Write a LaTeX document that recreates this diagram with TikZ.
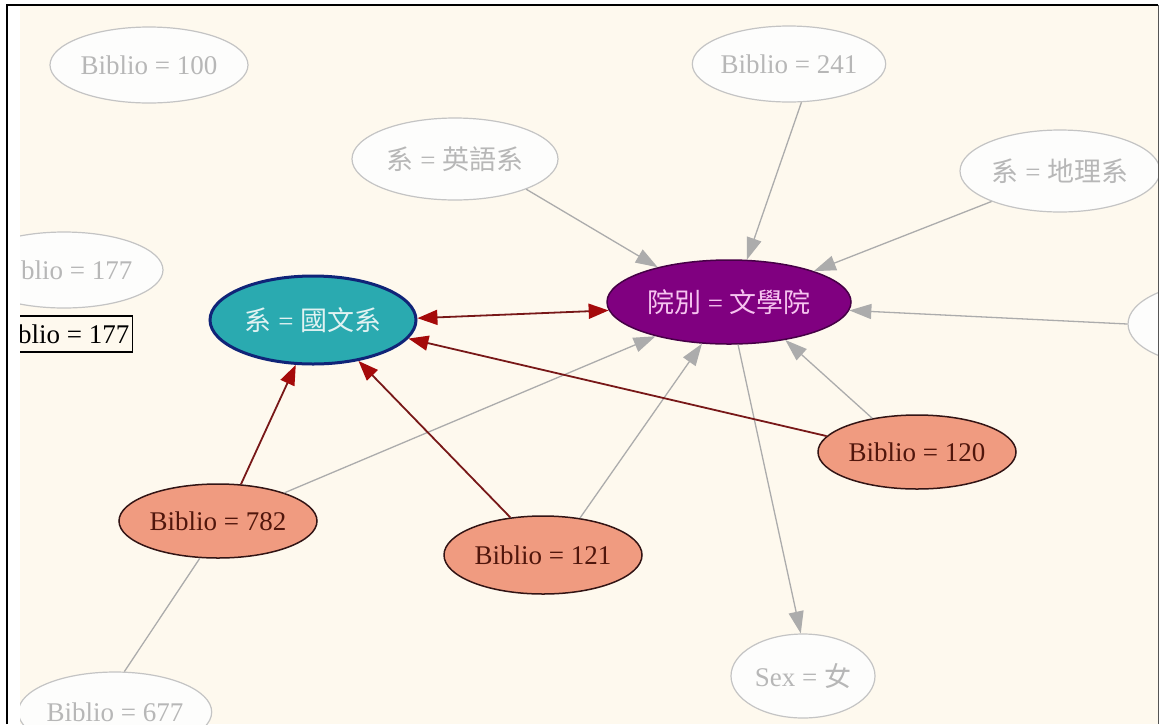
\documentclass[tikz,border=0pt]{standalone}
\usepackage{fontspec}
\setmainfont{Liberation Serif}
\newfontfamily\cjk{Noto Sans CJK TC}
\usetikzlibrary{shapes.geometric,arrows.meta}

\definecolor{cream}{RGB}{254,249,238}
\definecolor{faintfill}{RGB}{253,253,252}
\definecolor{faintline}{RGB}{196,196,196}
\definecolor{fainttext}{RGB}{183,183,183}
\definecolor{edgegray}{RGB}{172,172,172}
\definecolor{collfill}{RGB}{128,0,128}
\definecolor{collline}{RGB}{70,0,70}
\definecolor{colltext}{RGB}{246,196,240}
\definecolor{deptfill}{RGB}{42,170,176}
\definecolor{deptline}{RGB}{16,36,120}
\definecolor{depttext}{RGB}{225,242,242}
\definecolor{hitfill}{RGB}{240,155,128}
\definecolor{hitline}{RGB}{50,20,20}
\definecolor{hittext}{RGB}{80,22,12}
\definecolor{relline}{RGB}{120,24,24}
\definecolor{relhead}{RGB}{165,10,10}
\definecolor{rimgray}{RGB}{85,85,85}

\tikzset{
  base/.style={ellipse, inner sep=0pt, font=\fontsize{13.5}{16}\selectfont},
  sz/.style 2 args={minimum width=#1*1pt, minimum height=#2*1pt},
  faint/.style={base, draw=faintline, fill=faintfill, text=fainttext, line width=0.6pt},
  hit/.style={base, draw=hitline, fill=hitfill, text=hittext, line width=0.75pt},
  college/.style={base, draw=collline, fill=collfill, text=colltext, line width=0.75pt},
  dept/.style={base, draw=deptline, fill=deptfill, text=depttext, line width=1.5pt},
  tipbox/.style={rectangle, draw=black, fill=cream, text=black, line width=0.7pt,
    inner xsep=1.5pt, minimum height=18pt, font=\fontsize{13.5}{16}\selectfont},
  link/.style={draw=edgegray, line width=0.65pt, -{Triangle[length=11pt,width=7.5pt]}},
  plainlink/.style={draw=edgegray, line width=0.65pt},
  rel/.style={draw=relline, line width=0.9pt, -{Triangle[length=10pt,width=7.5pt,color=relhead]}},
  relboth/.style={draw=relline, line width=0.9pt,
    {Triangle[length=10pt,width=7.5pt,color=relhead]}-{Triangle[length=10pt,width=7.5pt,color=relhead]}},
}

\begin{document}
\begin{tikzpicture}[x=0.5pt,y=-0.5pt]
\useasboundingbox (0,0) rectangle (1160,724);
\fill[white] (0,0) rectangle (1160,724);
\fill[cream] (20,6) rectangle (1158,724);

\begin{scope}
\clip (20,6) rectangle (1158,724);

% attribute nodes around the college
\node[faint, sz={99}{38}] (b100) at (149,65) {Biblio = 100};
\node[faint, sz={88}{38}] (b241) at (789,64) {Biblio = 241};
\node[faint, sz={103}{41}] (eng) at (455,159) {{\cjk 系} = {\cjk 英語系}};
\node[faint, sz={100}{41}] (geo) at (1060,171) {{\cjk 系} = {\cjk 地理系}};
\node[faint, sz={90}{42}] (east) at (1218,324) {};
\node[faint, sz={99}{38}] (b177) at (64,270) {\phantom{Bi}blio = 177};
\node[faint, sz={72}{42}] (sex) at (803,676) {Sex = {\cjk 女}};
\node[faint, sz={92}{40}] (b677) at (115,712) {Biblio = 677};

% central nodes
\node[college, sz={122}{42}] (coll) at (729,302) {{\cjk 院別} = {\cjk 文學院}};
\node[dept, sz={103}{44}] (chn) at (313,320) {{\cjk 系} = {\cjk 國文系}};

% matching records
\node[hit, sz={99}{37}] (b120) at (917,452) {Biblio = 120};
\node[hit, sz={99}{37}] (b782) at (218,521) {Biblio = 782};
\node[hit, sz={99}{39}] (b121) at (543,555) {Biblio = 121};

% hover box
\node[tipbox, anchor=east] (tip) at (133,334) {\phantom{Bi}blio = 177};

% gray links into the college node
\draw[link] (eng.-23) -- (coll.154);
\draw[link] (b241.-72) -- (coll.67);
\draw[link] (geo.204) -- (coll.20);
\draw[link] (east.180) -- (coll.-4);
\draw[link] (b782.23) -- (coll.205);
\draw[link] (b121.45) -- (coll.237);
\draw[link] (b120.143) -- (coll.-34);
\draw[link] (coll.-78) -- (sex.93);
\draw[plainlink] (b782.-116) -- (b677.77);

% red links into the department node
\draw[relboth] (chn.1) -- (coll.184);
\draw[rel] (b120.170) -- (chn.-11);
\draw[rel] (b782.58) -- (chn.-111);
\draw[rel] (b121.131) -- (chn.-42);
\end{scope}

% window frame
\draw[black, line width=1pt] (7,724) -- (7,5) -- (1158,5);
\draw[rimgray, line width=0.6pt] (1158.5,5) -- (1158.5,724);
\end{tikzpicture}
\end{document}
